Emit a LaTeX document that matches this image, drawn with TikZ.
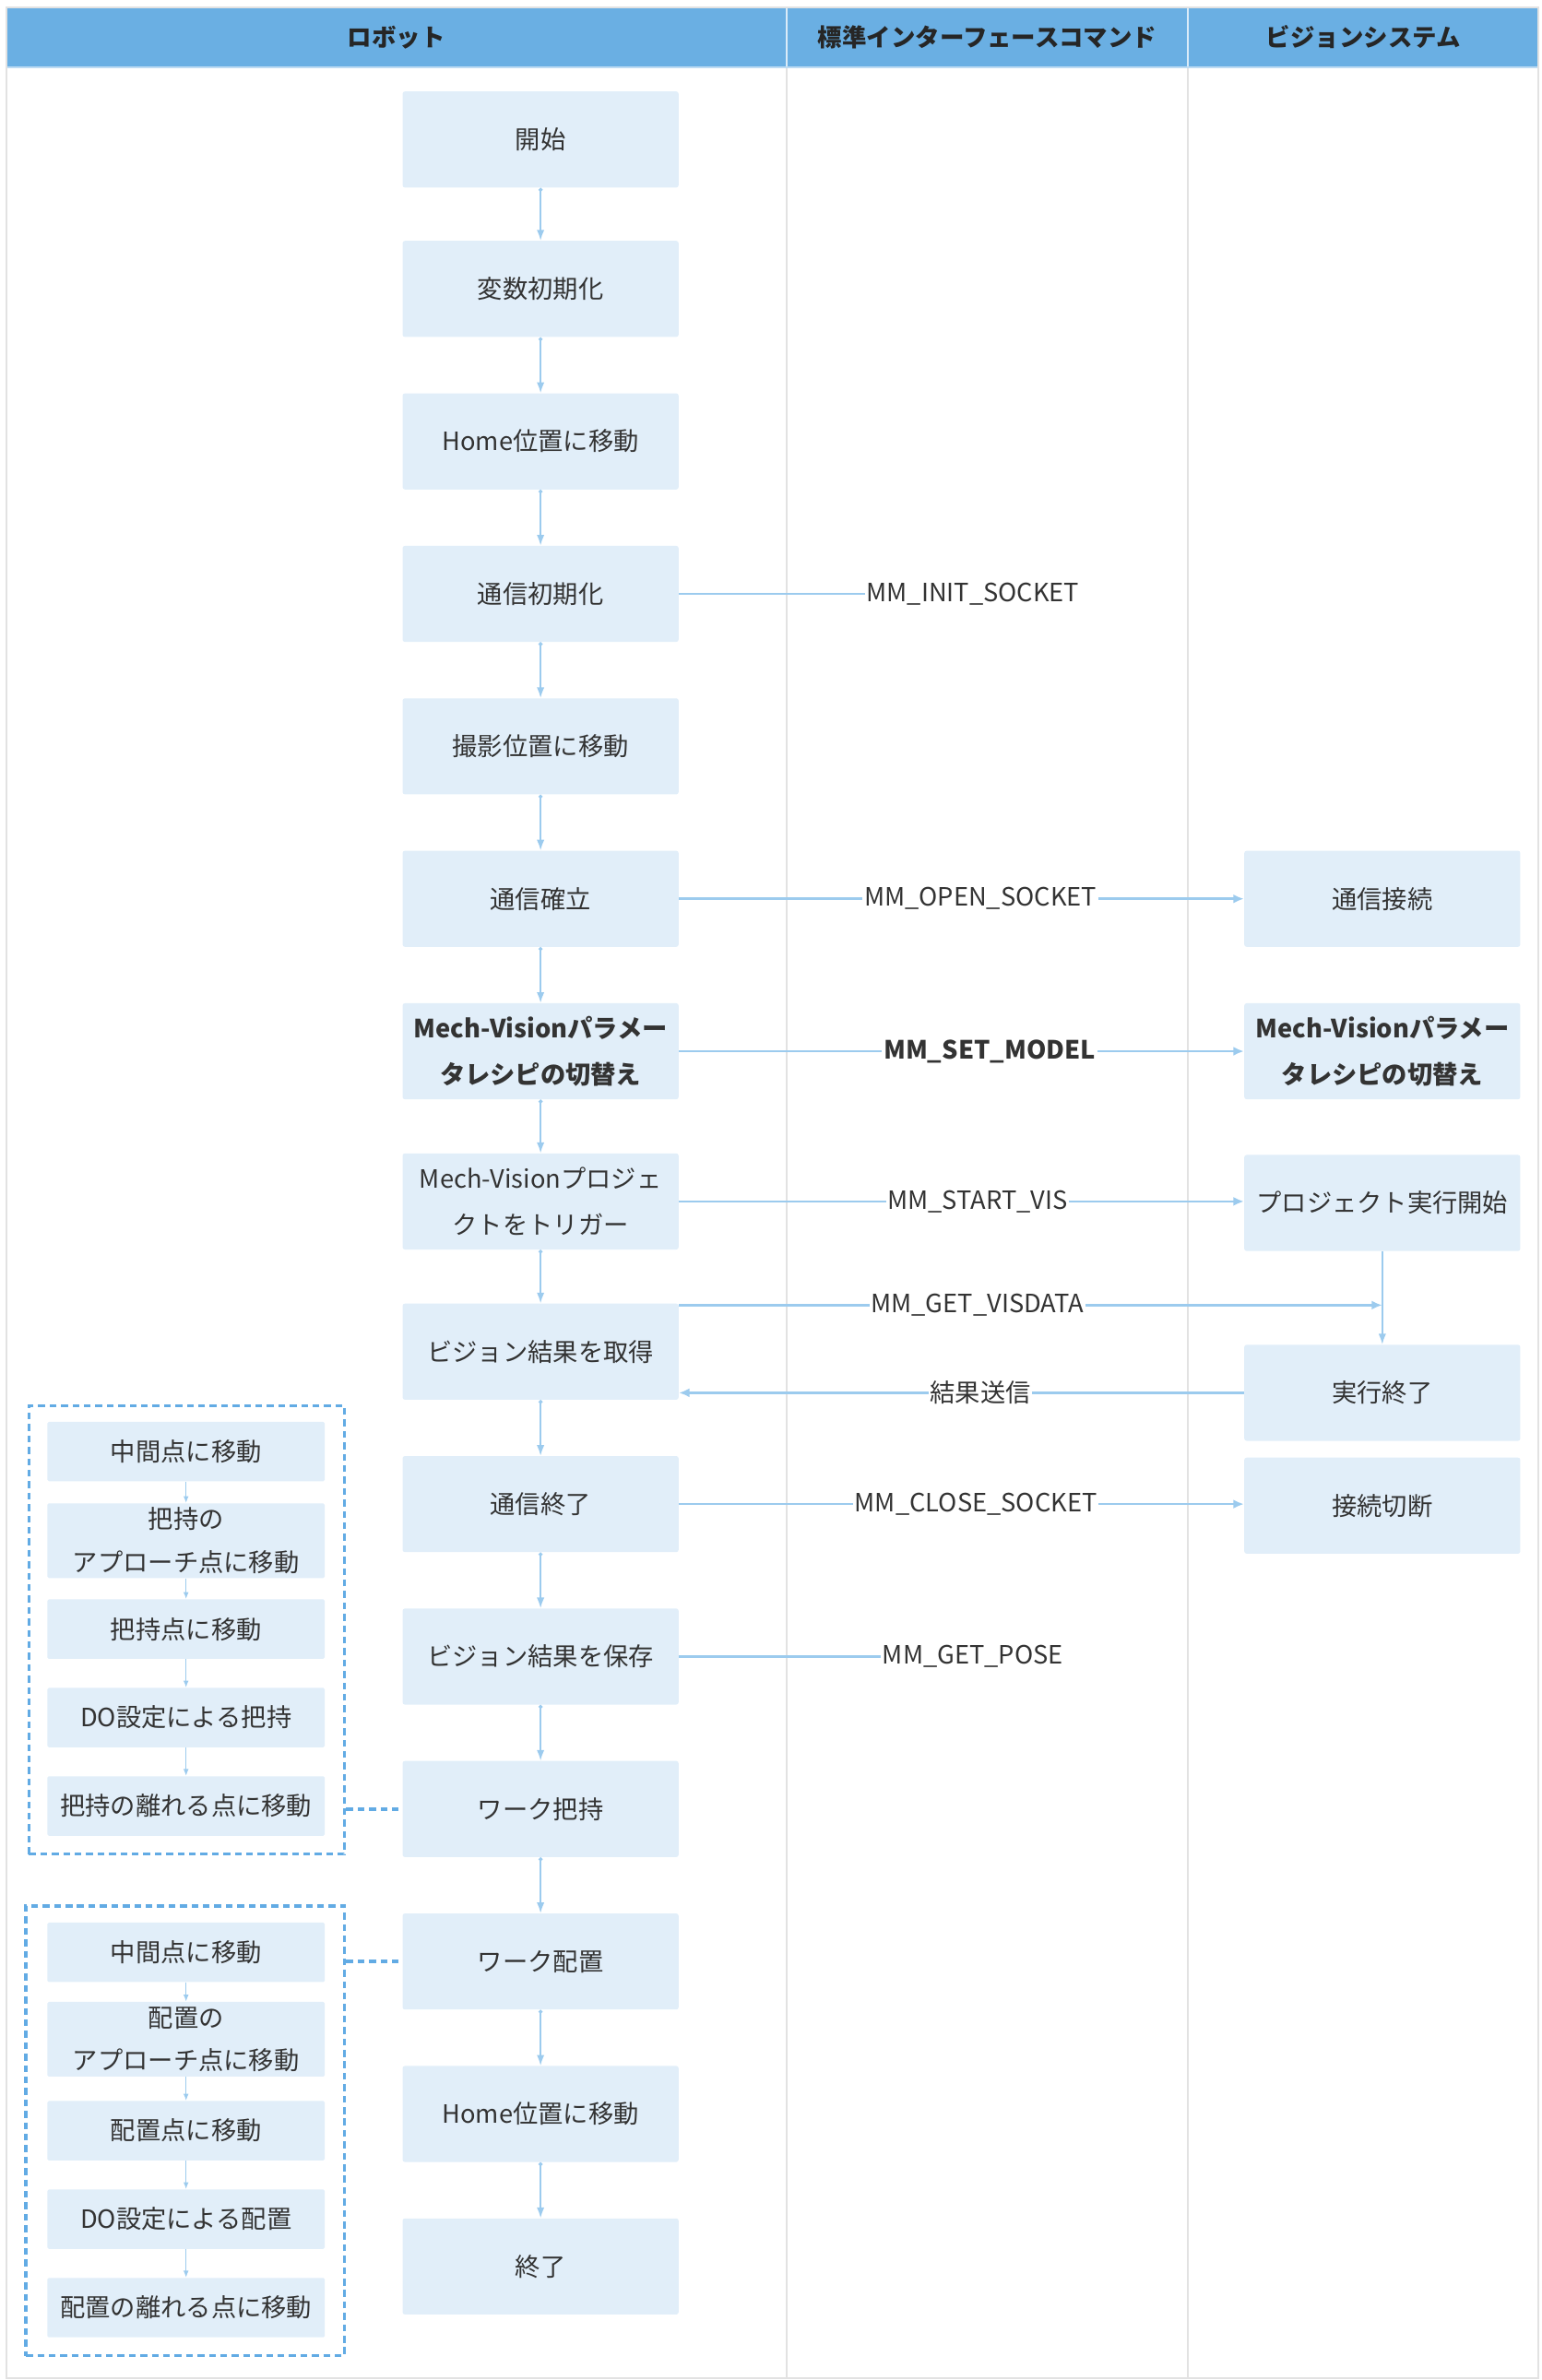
\documentclass[tikz,border=0pt]{standalone}
\usepackage{fontspec}
\setmainfont{Noto Sans CJK JP}
\usetikzlibrary{arrows.meta}
\definecolor{hdr}{HTML}{6AAFE3}
\definecolor{boxfill}{HTML}{E1EEF9}
\definecolor{arr}{HTML}{9CCBEE}
\definecolor{dashc}{HTML}{62ABE4}
\definecolor{gridc}{HTML}{E2E2E2}
\definecolor{txt}{HTML}{333333}
\begin{document}
\begin{tikzpicture}[x=1pt,y=-1pt,
  every node/.style={text=txt, font=\fontsize{16.5}{30}\selectfont},
  fbox/.style={fill=boxfill, minimum width=181pt, minimum height=63pt, inner sep=0pt, align=center, rounded corners=1.5pt},
  sbox/.style={fill=boxfill, minimum width=182pt, minimum height=39pt, inner sep=0pt, align=center, rounded corners=1pt},
  boldtxt/.style={font=\fontsize{16.5}{30}\selectfont\bfseries},
  flow/.style={draw=arr, line width=1pt, arrows={Circle[length=2.5pt]-Latex[length=7pt,width=5pt]}},
  sflow/.style={draw=arr, line width=0.8pt, arrows={-Latex[length=4.5pt,width=3.5pt]}},
  vflow/.style={draw=arr, line width=1pt, arrows={-Latex[length=7pt,width=5pt]}},
  msg/.style={draw=arr, line width=1.5pt, arrows={-Latex[length=7pt,width=6pt]}},
  link/.style={draw=arr, line width=1.5pt},
  lbl/.style={fill=white, inner xsep=1pt, inner ysep=3pt},
  grp/.style={draw=dashc, line width=2.1pt, dash pattern=on 4.5pt off 3pt},
  hd/.style={font=\fontsize{16}{20}\selectfont\bfseries, text=black!85}
]
\useasboundingbox (0,0) rectangle (1011,1561);
% table
\fill[hdr] (4,5) rectangle (1009,44);
\draw[gridc, line width=1pt] (516,44) -- (516,1559.5);
\draw[gridc, line width=1pt] (779,44) -- (779,1559.5);
\draw[white!75!hdr, line width=1pt] (516,5) -- (516,44);
\draw[white!75!hdr, line width=1pt] (779,5) -- (779,44);
\draw[hdr!45, line width=1.2pt] (4,44) -- (1009,44);
\draw[gridc, line width=1.2pt] (4,5) rectangle (1009,1559.5);
\node[hd] (h1) at (260,24.5) {ロボット};
\node[hd] (h2) at (647.5,24.5) {標準インターフェースコマンド};
\node[hd] (h3) at (894,24.5) {ビジョンシステム};

% main column
\node[fbox] (m1) at (354.5,91.5) {開始};
\node[fbox] (m2) at (354.5,189.5) {変数初期化};
\node[fbox] (m3) at (354.5,289.5) {Home位置に移動};
\node[fbox] (m4) at (354.5,389.5) {通信初期化};
\node[fbox] (m5) at (354.5,489.5) {撮影位置に移動};
\node[fbox] (m6) at (354.5,589.5) {通信確立};
\node[fbox, boldtxt] (m7) at (354.5,689.5) {Mech-Visionパラメー\\タレシピの切替え};
\node[fbox] (m8) at (354.5,788) {Mech-Visionプロジェ\\クトをトリガー};
\node[fbox] (m9) at (354.5,886.5) {ビジョン結果を取得};
\node[fbox] (m10) at (354.5,986.5) {通信終了};
\node[fbox] (m11) at (354.5,1086.5) {ビジョン結果を保存};
\node[fbox] (m12) at (354.5,1186.5) {ワーク把持};
\node[fbox] (m13) at (354.5,1286.5) {ワーク配置};
\node[fbox] (m14) at (354.5,1386.5) {Home位置に移動};
\node[fbox] (m15) at (354.5,1486.5) {終了};
\foreach \a/\b in {m1/m2,m2/m3,m3/m4,m4/m5,m5/m6,m6/m7,m7/m8,m8/m9,m9/m10,m10/m11,m11/m12,m12/m13,m13/m14,m14/m15}
  \draw[flow] (\a.south) -- (\b.north);

% vision column
\node[fbox] (r1) at (906.5,589.5) {通信接続};
\node[fbox, boldtxt] (r2) at (906.5,689.5) {Mech-Visionパラメー\\タレシピの切替え};
\node[fbox] (r3) at (906.5,789) {プロジェクト実行開始};
\node[fbox] (r4) at (906.5,913.5) {実行終了};
\node[fbox] (r5) at (906.5,987.5) {接続切断};
\draw[vflow] (r3.south) -- (r4.north);

% messages
\node[lbl] (c1) at (638,389.5) {MM\_INIT\_SOCKET};
\draw[link] (m4.east) -- (c1.west);
\draw[msg] (m6.east) -- (r1.west);
\node[lbl] (c2) at (643,589.5) {MM\_OPEN\_SOCKET};
\draw[msg] (m7.east) -- (r2.west);
\node[lbl, boldtxt] (c3) at (649,689.5) {MM\_SET\_MODEL};
\draw[msg] (m8.east) -- (m8.east -| r3.west);
\node[lbl] (c4) at (641,788) {MM\_START\_VIS};
\coordinate (vis) at (906.5,856);
\draw[msg] (vis -| m9.east) -- (vis);
\node[lbl] (c5) at (641,856) {MM\_GET\_VISDATA};
\draw[msg] (r4.west) -- (r4.west -| m9.east);
\node[lbl] (c6) at (643,913.5) {結果送信};
\draw[msg] (m10.east) -- (m10.east -| r5.west);
\node[lbl] (c7) at (640,986.5) {MM\_CLOSE\_SOCKET};
\node[lbl] (c8) at (638,1086.5) {MM\_GET\_POSE};
\draw[link] (m11.east) -- (c8.west);

% group 1
\node[grp, minimum width=207pt, minimum height=294pt, inner sep=0pt] (g1) at (122.5,1069) {};
\node[sbox] (a1) at (122,952) {中間点に移動};
\node[sbox, minimum height=49pt, font=\fontsize{16.5}{28}\selectfont] (a2) at (122,1010.5) {把持の\\アプローチ点に移動};
\node[sbox] (a3) at (122,1068.5) {把持点に移動};
\node[sbox] (a4) at (122,1126.5) {DO設定による把持};
\node[sbox] (a5) at (122,1184.5) {把持の離れる点に移動};
\foreach \a/\b in {a1/a2,a2/a3,a3/a4,a4/a5}
  \draw[sflow] (\a.south) -- (\b.north);
\draw[grp] (m12.west -| g1.east) -- (m12.west);

% group 2
\node[grp, minimum width=209pt, minimum height=295pt, inner sep=0pt] (g2) at (121.5,1397.5) {};
\node[sbox] (b1) at (122,1280.5) {中間点に移動};
\node[sbox, minimum height=49pt, font=\fontsize{16.5}{28}\selectfont] (b2) at (122,1337.5) {配置の\\アプローチ点に移動};
\node[sbox] (b3) at (122,1397.5) {配置点に移動};
\node[sbox] (b4) at (122,1455.5) {DO設定による配置};
\node[sbox] (b5) at (122,1513.5) {配置の離れる点に移動};
\foreach \a/\b in {b1/b2,b2/b3,b3/b4,b4/b5}
  \draw[sflow] (\a.south) -- (\b.north);
\draw[grp] (m13.west -| g2.east) -- (m13.west);
\end{tikzpicture}
\end{document}
